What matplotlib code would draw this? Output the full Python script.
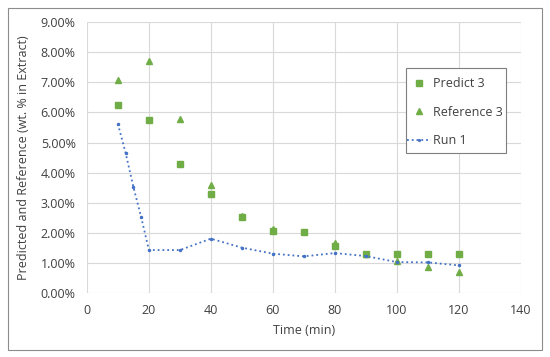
import matplotlib
matplotlib.use("Agg")
import matplotlib.pyplot as plt
from matplotlib.patches import Rectangle
from matplotlib.ticker import FuncFormatter

# data (wt. % in extract)
time_pts = [10, 20, 30, 40, 50, 60, 70, 80, 90, 100, 110, 120]
predict_3 = [6.25, 5.75, 4.27, 3.27, 2.53, 2.05, 2.03, 1.56, 1.28, 1.30, 1.30, 1.30]
reference_3 = [7.07, 7.70, 5.78, 3.57, 2.57, 2.12, None, 1.65, 1.30, 1.07, 0.87, 0.70]

run_time = [10, 12.5, 15, 17.5, 20, 30, 40, 50, 60, 70, 80, 90, 100, 110, 120]
run_1 = [5.62, 4.65, 3.52, 2.52, 1.42, 1.42, 1.80, 1.50, 1.30, 1.21, 1.32, 1.22, 1.02, 1.01, 0.91]

plt.rcParams["font.family"] = ["Open Sans", "DejaVu Sans"]
green = "#70AD47"
blue = "#4472C4"
txt = "#404040"

W, H = 550, 357
fig = plt.figure(figsize=(W / 100, H / 100), dpi=100)
ax = fig.add_axes([0.158, 0.18, 0.789, 0.7575])

ref_x = [t for t, v in zip(time_pts, reference_3) if v is not None]
ref_y = [v / 100 for v in reference_3 if v is not None]

ax.plot(time_pts, [v / 100 for v in predict_3], "s", color=green, ms=4.8,
        label="Predict 3", zorder=3)
ax.plot(ref_x, ref_y, "^", color=green, ms=5, label="Reference 3", zorder=3)
ax.plot(run_time, [v / 100 for v in run_1], ":", color=blue, lw=1.3,
        marker="o", ms=1.5, label="Run 1", zorder=4)

ax.set_xlim(0, 140)
ax.set_ylim(0, 0.09)
ax.set_xticks(range(0, 141, 20))
ax.set_yticks([i / 100 for i in range(0, 10)])
ax.yaxis.set_major_formatter(FuncFormatter(lambda v, _: f"{v * 100:.2f}%"))
ax.grid(True, color="#D9D9D9", lw=0.8)
ax.set_axisbelow(True)
for s in ax.spines.values():
    s.set_visible(False)
ax.tick_params(length=0, labelsize=9, colors=txt, pad=8)
ax.set_xlabel("Time (min)", fontsize=9, color=txt, labelpad=5)
ax.set_ylabel("Predicted and Reference (wt. % in Extract)", fontsize=9,
              color=txt, labelpad=8)

# legend without its own frame; the box is drawn separately so the
# padding can match the (asymmetric) Excel legend box
leg = ax.legend(loc="upper left", bbox_to_anchor=(407 / W, 1 - 77 / H),
                bbox_transform=fig.transFigure, fontsize=9, frameon=False,
                borderpad=0, borderaxespad=0, labelspacing=1.25,
                handlelength=1.9, handletextpad=0.2, markerscale=0.85)
leg.set_zorder(6)
for t in leg.get_texts():
    t.set_color(txt)
ax.add_patch(Rectangle((406 / W, 1 - 153 / H), 100 / W, 85 / H,
                       transform=fig.transFigure, clip_on=False,
                       facecolor="white", edgecolor="#7F7F7F", lw=0.8,
                       zorder=5))

fig.add_artist(Rectangle((8 / W, 1 - 350 / H), 534 / W, 342 / H,
                         transform=fig.transFigure, fill=False,
                         edgecolor="#8C8C8C", lw=0.8))

fig.savefig("out.png", dpi=100)
